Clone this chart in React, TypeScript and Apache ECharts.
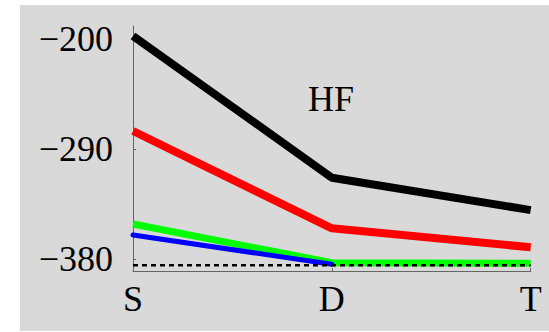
import React, { useEffect, useRef } from "react";
import * as echarts from "echarts";

const categories = ["S", "D", "T"];
const blackSeries = [-197.5, -313.5, -340];
const redSeries = [-275.3, -354.9, -370.4];
const greenSeries = [-351.4, -383, -383.5];
const blueSeries = [-360.4, -384.3, null];
const dottedSeries = [-385, -385, -385];
const yTicks = [-380, -290, -200];
const annotation = "HF";

export default function App() {
  const ref = useRef<HTMLDivElement>(null);
  useEffect(() => {
    const chart = echarts.init(ref.current!, null, { renderer: "svg" });
    const font = "'Liberation Serif', 'Times New Roman', serif";
    chart.setOption({
      animation: false,
      backgroundColor: "#ffffff",
      graphic: [
        {
          type: "rect",
          z: -10,
          silent: true,
          shape: { x: 20, y: 5, width: 529, height: 326 },
          style: { fill: "#d9d9d9" },
        },
        {
          type: "text",
          x: 331,
          y: 99,
          z: 10,
          style: {
            text: annotation,
            font: `36px ${font}`,
            fill: "#000",
            align: "center",
            verticalAlign: "middle",
          },
        },
      ],
      grid: { left: 133, right: 18.3, top: 26, bottom: 61, containLabel: false },
      xAxis: {
        type: "category",
        data: categories,
        boundaryGap: false,
        axisLine: { lineStyle: { color: "#666", width: 1 } },
        axisTick: { inside: true, length: 3, lineStyle: { color: "#666" } },
        axisLabel: {
          fontFamily: font,
          fontSize: 36,
          color: "#000",
          margin: 10,
        },
        splitLine: { show: false },
      },
      yAxis: {
        type: "value",
        min: -389.8,
        max: -189.4,
        axisLine: { show: true, lineStyle: { color: "#666", width: 1 } },
        axisTick: {
          show: true,
          inside: true,
          length: 3,
          customValues: yTicks,
          lineStyle: { color: "#666" },
        },
        axisLabel: {
          customValues: yTicks,
          fontFamily: font,
          fontSize: 36,
          color: "#000",
          margin: 20,
          formatter: (v: number) => (v < 0 ? "\u2212" + Math.abs(v) : String(v)),
        },
        splitLine: { show: false },
      },
      series: [
        {
          type: "line",
          data: blackSeries,
          symbol: "none",
          lineStyle: { color: "#000000", width: 8 },
        },
        {
          type: "line",
          data: redSeries,
          symbol: "none",
          lineStyle: { color: "#ff0000", width: 8 },
        },
        {
          type: "line",
          data: greenSeries,
          symbol: "none",
          lineStyle: { color: "#00ff00", width: 7 },
        },
        {
          type: "line",
          data: blueSeries,
          symbol: "none",
          lineStyle: { color: "#0000ff", width: 5, cap: "round" },
        },
        {
          type: "line",
          data: dottedSeries,
          symbol: "none",
          lineStyle: { color: "#000000", width: 2.5, type: [5, 4] },
        },
      ],
    });
    return () => chart.dispose();
  }, []);
  return (
    <div
      ref={ref}
      style={{ position: "fixed", left: 0, top: 0, width: 549, height: 332 }}
    />
  );
}
